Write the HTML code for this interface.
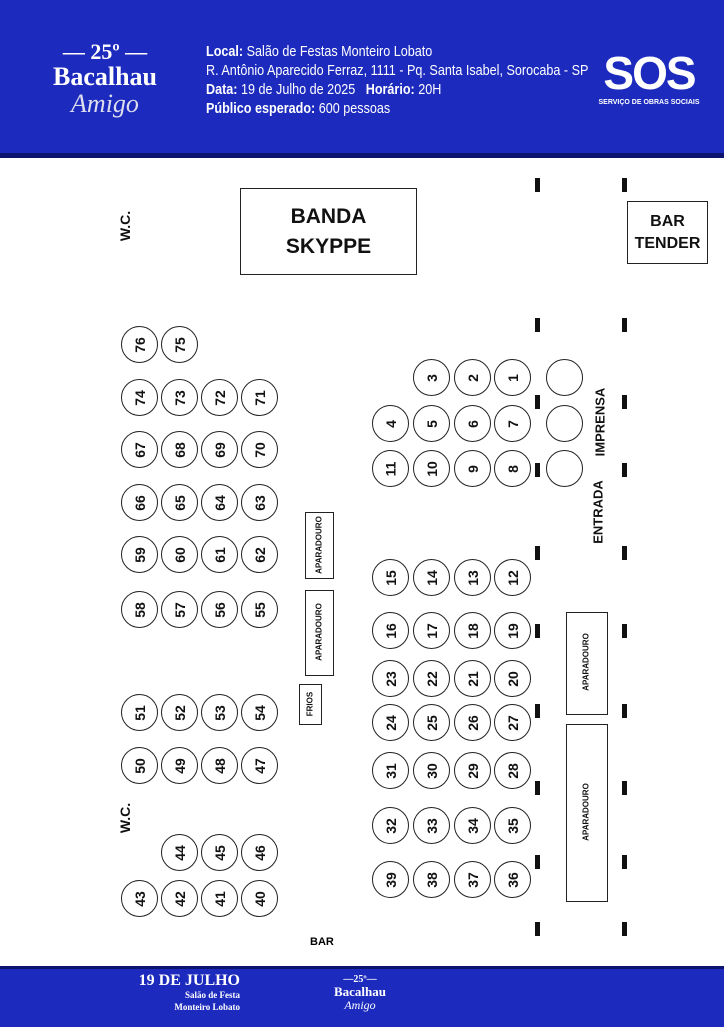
<!DOCTYPE html>
<html><head><meta charset="utf-8"><style>
body{margin:0;width:724px;height:1024px;position:relative;background:#fff;font-family:"Liberation Sans",sans-serif;overflow:hidden}
.hd{position:absolute;left:0;top:0;width:724px;height:153px;background:#1c2bbd}
.hb{position:absolute;left:0;top:153px;width:724px;height:5px;background:#0d1470}
.ft{position:absolute;left:0;top:966px;width:724px;height:58px;background:#1c2bbd;border-top:3px solid #0d1470}
.c{position:absolute;width:35px;height:35px;border:1.3px solid #222;border-radius:50%;display:flex;align-items:center;justify-content:center;font-weight:bold;font-size:14px;color:#111}
.c span{transform:rotate(-90deg)}
.d{position:absolute;width:5px;height:14px;background:#111}
.r{position:absolute;border:1.3px solid #222;display:flex;align-items:center;justify-content:center;font-weight:bold;color:#111}
.v{position:absolute;transform:translate(-50%,-50%) rotate(-90deg);font-weight:bold;white-space:nowrap;color:#111}
</style></head><body>
<div class="hd"></div><div class="hb"></div>
<div style="position:absolute;left:30px;top:40px;width:150px;text-align:center;color:#fff;font-family:'Liberation Serif',serif;font-weight:bold">
<div style="font-size:22px;line-height:24px">— 25º —</div>
<div style="font-size:26px;line-height:26px">Bacalhau</div>
<div style="font-size:26px;font-style:italic;font-weight:normal;line-height:28px;color:#dde">Amigo</div></div>
<div style="position:absolute;left:206px;top:42px;color:#fff;font-size:15px;line-height:19px;transform:scaleX(0.84);transform-origin:left top;white-space:nowrap">
<div><b>Local:</b> Salão de Festas Monteiro Lobato</div>
<div>R. Antônio Aparecido Ferraz, 1111 - Pq. Santa Isabel, Sorocaba - SP</div>
<div><b>Data:</b> 19 de Julho de 2025 &nbsp; <b>Horário:</b> 20H</div>
<div><b>Público esperado:</b> 600 pessoas</div></div>
<div style="position:absolute;left:585px;top:48px;width:128px;text-align:center;color:#fff;font-weight:900;font-size:46px;line-height:50px;letter-spacing:-2px">SOS</div>
<div style="position:absolute;left:585px;top:99px;width:128px;text-align:center;color:#fff;font-weight:bold;font-size:7px">SERVIÇO DE OBRAS SOCIAIS</div>

<div class="r" style="left:240px;top:188px;width:175px;height:85px;font-size:21px;line-height:30px;text-align:center">BANDA<br>SKYPPE</div>
<div class="r" style="left:627px;top:201px;width:79px;height:61px;font-size:16px;line-height:22px;text-align:center">BAR<br>TENDER</div>
<div class="r" style="left:305px;top:512px;width:27px;height:65px"></div><div class="v" style="left:319px;top:545px;font-size:8px">APARADOURO</div>
<div class="r" style="left:305px;top:590px;width:27px;height:84px"></div><div class="v" style="left:319px;top:632px;font-size:8px">APARADOURO</div>
<div class="r" style="left:299px;top:684px;width:21px;height:39px"></div><div class="v" style="left:310px;top:704px;font-size:8px">FRIOS</div>
<div class="r" style="left:566px;top:612px;width:40px;height:101px"></div><div class="v" style="left:586px;top:662px;font-size:8px">APARADOURO</div>
<div class="r" style="left:566px;top:724px;width:40px;height:176px"></div><div class="v" style="left:586px;top:812px;font-size:8px">APARADOURO</div>
<div class="v" style="left:125px;top:226px;font-size:14px">W.C.</div>
<div class="v" style="left:125px;top:818px;font-size:14px">W.C.</div>
<div class="v" style="left:598px;top:512px;font-size:13px">ENTRADA</div>
<div class="v" style="left:600px;top:422px;font-size:13px">IMPRENSA</div>
<div style="position:absolute;left:310px;top:936px;font-weight:bold;font-size:11px">BAR</div>
<div id="g"></div>
<div class="ft"></div>
<div style="position:absolute;left:130px;top:972px;width:110px;text-align:right;color:#fff;font-family:'Liberation Serif',serif;font-weight:bold">
<div style="font-size:16px;line-height:17px">19 DE JULHO</div>
<div style="font-size:9px;line-height:12px">Salão de Festa</div>
<div style="font-size:9px;line-height:12px">Monteiro Lobato</div></div>
<div style="position:absolute;left:320px;top:974px;width:80px;text-align:center;color:#fff;font-family:'Liberation Serif',serif;font-weight:bold">
<div style="font-size:10px;line-height:11px">—25º—</div>
<div style="font-size:13px;line-height:13px">Bacalhau</div>
<div style="font-size:12px;font-style:italic;font-weight:normal;line-height:14px">Amigo</div></div>
<script>
var g=document.getElementById('g'),h='';
function c(n,x,y){h+='<div class="c" style="left:'+(x-18)+'px;top:'+(y-18)+'px"><span>'+n+'</span></div>';}
var L=[139,179,219,259];
[[344,[76,75]],[397,[74,73,72,71]],[449,[67,68,69,70]],[502,[66,65,64,63]],[554,[59,60,61,62]],[609,[58,57,56,55]],[712,[51,52,53,54]],[765,[50,49,48,47]]].forEach(function(r){r[1].forEach(function(n,i){c(n,L[i],r[0]);});});
[44,45,46].forEach(function(n,i){c(n,L[i+1],852);});
[43,42,41,40].forEach(function(n,i){c(n,L[i],898);});
var R=[390,431,472,512];
[3,2,1].forEach(function(n,i){c(n,R[i+1],377);});
[[423,[4,5,6,7]],[468,[11,10,9,8]],[577,[15,14,13,12]],[630,[16,17,18,19]],[678,[23,22,21,20]],[722,[24,25,26,27]],[770,[31,30,29,28]],[825,[32,33,34,35]],[879,[39,38,37,36]]].forEach(function(r){r[1].forEach(function(n,i){c(n,R[i],r[0]);});});
[377,423,468].forEach(function(y){c('',564,y);});
[185,325,402,470,553,631,711,788,862,929].forEach(function(y){h+='<div class="d" style="left:535px;top:'+(y-7)+'px"></div><div class="d" style="left:622px;top:'+(y-7)+'px"></div>';});
g.innerHTML=h;
</script>
</body></html>
